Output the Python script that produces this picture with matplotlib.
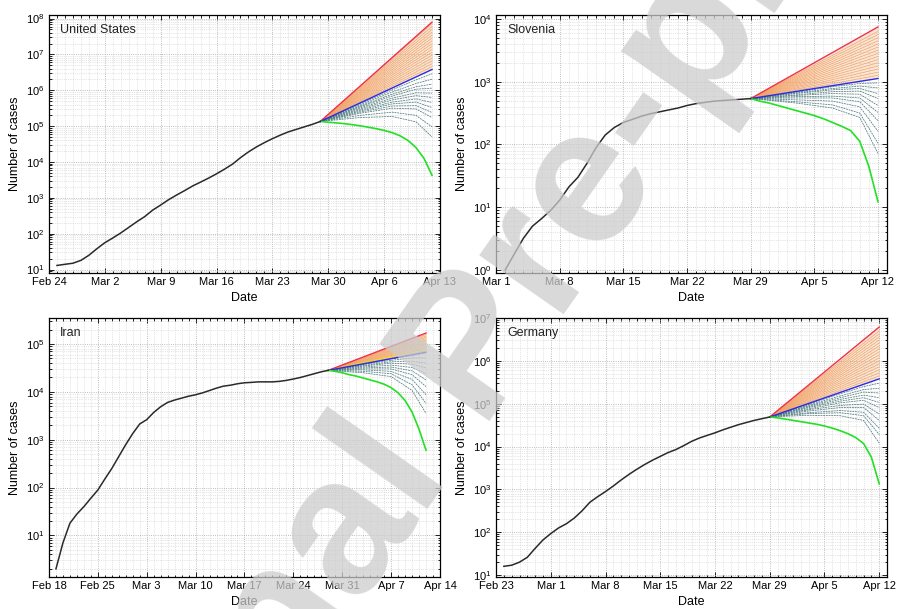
import numpy as np
import matplotlib as mpl
mpl.use('Agg')
import matplotlib.pyplot as plt
import matplotlib.dates as mdates
from matplotlib.ticker import LogLocator, NullFormatter

plt.rcParams['font.family'] = ['Liberation Sans', 'DejaVu Sans']

# observed cumulative cases (black line), one value per day from the first day
us_first = '2020-02-25'
us_cases = [13, 14, 15, 18, 25, 38, 56, 76, 105, 150, 215, 300, 455, 630, 890, 1200, 1590,
            2140, 2750, 3550, 4680, 6310, 8710, 13200, 19100, 26300, 34700, 44700, 56200,
            69200, 81300, 95500, 112000, 135000]
si_first = '2020-03-02'
si_cases = [1, 1.8, 3.2, 5, 6.6, 8.9, 13, 21, 30, 50, 89, 141, 186, 224, 251, 282, 309, 331,
            355, 380, 417, 447, 468, 490, 501, 513, 525, 537]
ir_first = '2020-02-19'
ir_cases = [2, 7, 18, 28, 40, 60, 89, 151, 251, 447, 794, 1350, 2140, 2630, 3720, 4900, 6030,
            6760, 7410, 8130, 8710, 9550, 10700, 12000, 13200, 13800, 14800, 15500, 15800,
            16200, 16200, 16200, 16600, 17400, 18600, 20000, 21900, 24000, 26300, 28200]
de_first = '2020-02-24'
de_cases = [16, 17, 20, 26, 42, 66, 93, 126, 158, 214, 316, 501, 676, 891, 1200, 1660, 2240,
            2950, 3800, 4790, 5890, 7240, 8510, 10500, 13200, 15800, 18200, 20900, 24500,
            28200, 32400, 36300, 40700, 44700, 49000]

# projections Mar 29 -> Apr 12, log10(cases)
fc_days = np.arange(np.datetime64('2020-03-29'), np.datetime64('2020-04-13'))
line_days = np.array(['2020-03-29', '2020-04-12'], dtype='datetime64[D]')
teal_days = np.array(['2020-03-29', '2020-04-03', '2020-04-07', '2020-04-10', '2020-04-12'],
                     dtype='datetime64[D]')

us_start, us_red, us_blue = 5.13, 7.90, 6.58
us_orange = [6.66, 6.74, 6.82, 6.90, 6.98, 7.06, 7.14, 7.22, 7.30, 7.38, 7.46, 7.54, 7.62,
             7.70, 7.78, 7.86]
us_green = [5.13, 5.11, 5.09, 5.07, 5.04, 5.01, 4.97, 4.93, 4.88, 4.82, 4.73, 4.60, 4.40,
            4.10, 3.63]
us_teal = [[5.13, 5.62, 6.01, 6.29, 6.46], [5.13, 5.59, 5.95, 6.19, 6.31],
           [5.13, 5.56, 5.89, 6.10, 6.17], [5.13, 5.54, 5.84, 6.03, 6.06],
           [5.13, 5.51, 5.78, 5.93, 5.92], [5.13, 5.48, 5.73, 5.85, 5.80],
           [5.13, 5.45, 5.67, 5.76, 5.66], [5.13, 5.42, 5.62, 5.67, 5.52],
           [5.13, 5.39, 5.56, 5.57, 5.38], [5.13, 5.36, 5.50, 5.48, 5.24],
           [5.13, 5.30, 5.39, 5.30, 4.98], [5.13, 5.24, 5.27, 5.12, 4.70]]

si_start, si_red, si_blue = 2.73, 3.87, 3.05
si_orange = [3.10, 3.15, 3.20, 3.25, 3.30, 3.35, 3.40, 3.45, 3.50, 3.55, 3.60, 3.65, 3.70,
             3.75, 3.80]
si_green = [2.73, 2.69, 2.66, 2.62, 2.58, 2.54, 2.50, 2.46, 2.41, 2.35, 2.29, 2.22, 2.05,
            1.65, 1.09]
si_teal = [[2.73, 2.83, 2.92, 2.97, 2.98], [2.73, 2.82, 2.89, 2.93, 2.90],
           [2.73, 2.81, 2.87, 2.89, 2.81], [2.73, 2.79, 2.84, 2.85, 2.73],
           [2.73, 2.78, 2.81, 2.80, 2.62], [2.73, 2.76, 2.77, 2.74, 2.51],
           [2.73, 2.74, 2.74, 2.68, 2.38], [2.73, 2.71, 2.69, 2.60, 2.21],
           [2.73, 2.68, 2.63, 2.50, 2.02], [2.73, 2.66, 2.58, 2.43, 1.86]]

ir_start, ir_red, ir_blue, ir_yellow = 4.45, 5.23, 4.83, 4.90
ir_orange = [4.86, 4.93, 4.96, 4.99, 5.02, 5.05, 5.08, 5.11, 5.14, 5.17, 5.20]
ir_green = [4.45, 4.43, 4.40, 4.36, 4.33, 4.29, 4.25, 4.21, 4.16, 4.09, 3.98, 3.82, 3.58,
            3.22, 2.78]
ir_teal = [[4.45, 4.58, 4.69, 4.76, 4.81], [4.45, 4.57, 4.66, 4.71, 4.71],
           [4.45, 4.55, 4.63, 4.64, 4.60], [4.45, 4.54, 4.60, 4.58, 4.50],
           [4.45, 4.52, 4.56, 4.51, 4.38], [4.45, 4.50, 4.52, 4.44, 4.25],
           [4.45, 4.48, 4.48, 4.36, 4.11], [4.45, 4.46, 4.43, 4.26, 3.94],
           [4.45, 4.43, 4.38, 4.15, 3.76], [4.45, 4.40, 4.32, 4.03, 3.55]]

de_start, de_red, de_blue = 4.69, 6.79, 5.58
de_orange = [5.65, 5.72, 5.79, 5.86, 5.93, 6.00, 6.07, 6.14, 6.21, 6.28, 6.35, 6.42, 6.49,
             6.56, 6.63, 6.70]
de_green = [4.69, 4.67, 4.64, 4.61, 4.58, 4.55, 4.52, 4.48, 4.43, 4.37, 4.30, 4.21, 4.07,
            3.75, 3.13]
de_teal = [[4.69, 4.99, 5.23, 5.40, 5.48], [4.69, 4.97, 5.18, 5.33, 5.36],
           [4.69, 4.95, 5.14, 5.27, 5.25], [4.69, 4.93, 5.10, 5.20, 5.14],
           [4.69, 4.91, 5.06, 5.14, 5.03], [4.69, 4.88, 5.02, 5.08, 4.91],
           [4.69, 4.86, 4.96, 4.99, 4.76], [4.69, 4.83, 4.91, 4.91, 4.61],
           [4.69, 4.79, 4.84, 4.80, 4.43], [4.69, 4.77, 4.79, 4.72, 4.28],
           [4.69, 4.73, 4.72, 4.61, 4.08]]


def draw(ax, name, first, cases, start, red, blue, orange, green, teal, xlim, ylim, yellow=None):
    ax.fill_between(line_days, 10 ** np.array([start, blue]), 10 ** np.array([start, red]),
                    color='#f8d2b4', alpha=0.55, lw=0, zorder=1)
    for e in orange:
        ax.plot(line_days, 10 ** np.array([start, e]), color='#f2a468', lw=0.5, zorder=2)
    for t in teal:
        ax.plot(teal_days, 10 ** np.array(t), color='#4f7b7e', lw=0.55, ls=(0, (2.5, 1)), zorder=2)
    if yellow is not None:
        ax.plot(line_days, 10 ** np.array([start, yellow]), color='#f2d21e', lw=0.9, zorder=3)
    ax.plot(line_days, 10 ** np.array([start, red]), color='#f0304a', lw=1.0, zorder=4)
    ax.plot(line_days, 10 ** np.array([start, blue]), color='#2b2be6', lw=1.0, zorder=4)
    ax.plot(fc_days, 10 ** np.array(green), color='#22e022', lw=1.2, zorder=4)
    days = np.datetime64(first) + np.arange(len(cases))
    ax.plot(days, cases, color='#2a2a2a', lw=1.1, zorder=5)

    ax.set_yscale('log')
    x0, x1 = np.datetime64(xlim[0]), np.datetime64(xlim[1])
    ax.set_xlim(x0, x1)
    ax.set_ylim(ylim)
    ax.set_xticks(np.arange(x0, x1 + 1, 7))
    ax.xaxis.set_major_formatter(mdates.DateFormatter('%b %-d'))
    ax.xaxis.set_minor_locator(mdates.DayLocator())
    ax.yaxis.set_major_locator(LogLocator(base=10, numticks=12))
    ax.yaxis.set_minor_locator(LogLocator(base=10, subs=np.arange(2, 10), numticks=12))
    ax.yaxis.set_minor_formatter(NullFormatter())
    ax.grid(True, which='major', ls=':', color='#a8a8a8', lw=0.6)
    ax.grid(True, which='minor', ls=':', color='#cdcdcd', lw=0.5)
    ax.tick_params(which='both', direction='in', top=True, right=True, labelsize=8,
                   width=0.6, pad=3)
    ax.tick_params(which='major', length=3.5)
    ax.tick_params(which='minor', length=1.8)
    for s in ax.spines.values():
        s.set_linewidth(0.9)
    ax.set_xlabel('Date', fontsize=9)
    ax.set_ylabel('Number of cases', fontsize=9)
    ax.xaxis.set_label_coords(0.5, -0.075)
    ax.yaxis.set_label_coords(-0.072, 0.5)
    ax.text(0.028, 0.965, name, transform=ax.transAxes, fontsize=9, va='top', ha='left',
            color='#222222')


fig = plt.figure(figsize=(8.97, 6.09), dpi=100)
ax1 = fig.add_axes([0.0546, 0.5517, 0.4359, 0.4237])
ax2 = fig.add_axes([0.553, 0.5517, 0.4359, 0.4237])
ax3 = fig.add_axes([0.0546, 0.0525, 0.4359, 0.4253])
ax4 = fig.add_axes([0.553, 0.0525, 0.4359, 0.4253])

draw(ax1, 'United States', us_first, us_cases, us_start, us_red, us_blue, us_orange, us_green,
     us_teal, ('2020-02-24', '2020-04-13'), (8, 1.26e8))
draw(ax2, 'Slovenia', si_first, si_cases, si_start, si_red, si_blue, si_orange, si_green,
     si_teal, ('2020-03-01', '2020-04-13'), (0.9, 1.15e4))
draw(ax3, 'Iran', ir_first, ir_cases, ir_start, ir_red, ir_blue, ir_orange, ir_green,
     ir_teal, ('2020-02-18', '2020-04-14'), (1.35, 3.5e5), yellow=ir_yellow)
draw(ax4, 'Germany', de_first, de_cases, de_start, de_red, de_blue, de_orange, de_green,
     de_teal, ('2020-02-23', '2020-04-13'), (9, 1.0e7))

# "Journal Pre-proof" watermark over the panels
fig.text(0.53, 0.42, 'Journal Pre-proof', rotation=55, fontsize=140, weight='bold',
         color='#cccccc', alpha=0.75, ha='center', va='center', zorder=10)

fig.savefig('out.png', dpi=100)
